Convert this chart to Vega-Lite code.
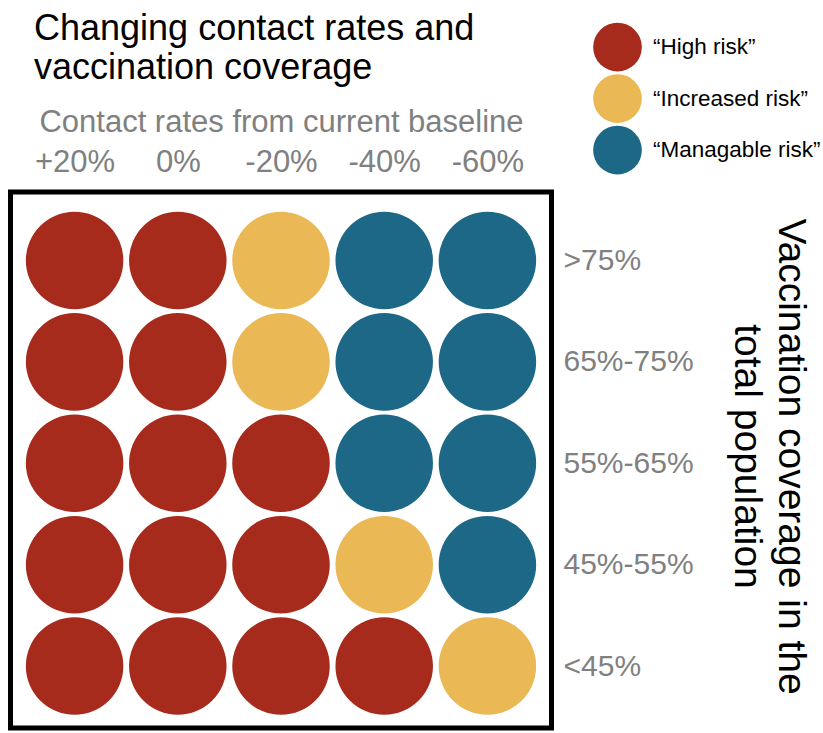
{
  "$schema": "https://vega.github.io/schema/vega-lite/v6.json",
  "autosize": "none",
  "width": 541,
  "height": 536,
  "padding": {"left": 10.5, "top": 192, "right": 271.5, "bottom": 5},
  "background": "white",
  "title": {
    "text": ["Changing contact rates and", "vaccination coverage"],
    "anchor": "start",
    "frame": "group",
    "fontSize": 36,
    "fontWeight": "normal",
    "color": "black",
    "lineHeight": 39,
    "baseline": "top",
    "dx": 23.5,
    "dy": 68
  },
  "data": {
    "values": [
      {"contact": "+20%", "coverage": ">75%", "risk": "“High risk”"},
      {"contact": "0%", "coverage": ">75%", "risk": "“High risk”"},
      {"contact": "-20%", "coverage": ">75%", "risk": "“Increased risk”"},
      {"contact": "-40%", "coverage": ">75%", "risk": "“Managable risk”"},
      {"contact": "-60%", "coverage": ">75%", "risk": "“Managable risk”"},
      {"contact": "+20%", "coverage": "65%-75%", "risk": "“High risk”"},
      {"contact": "0%", "coverage": "65%-75%", "risk": "“High risk”"},
      {"contact": "-20%", "coverage": "65%-75%", "risk": "“Increased risk”"},
      {"contact": "-40%", "coverage": "65%-75%", "risk": "“Managable risk”"},
      {"contact": "-60%", "coverage": "65%-75%", "risk": "“Managable risk”"},
      {"contact": "+20%", "coverage": "55%-65%", "risk": "“High risk”"},
      {"contact": "0%", "coverage": "55%-65%", "risk": "“High risk”"},
      {"contact": "-20%", "coverage": "55%-65%", "risk": "“High risk”"},
      {"contact": "-40%", "coverage": "55%-65%", "risk": "“Managable risk”"},
      {"contact": "-60%", "coverage": "55%-65%", "risk": "“Managable risk”"},
      {"contact": "+20%", "coverage": "45%-55%", "risk": "“High risk”"},
      {"contact": "0%", "coverage": "45%-55%", "risk": "“High risk”"},
      {"contact": "-20%", "coverage": "45%-55%", "risk": "“High risk”"},
      {"contact": "-40%", "coverage": "45%-55%", "risk": "“Increased risk”"},
      {"contact": "-60%", "coverage": "45%-55%", "risk": "“Managable risk”"},
      {"contact": "+20%", "coverage": "<45%", "risk": "“High risk”"},
      {"contact": "0%", "coverage": "<45%", "risk": "“High risk”"},
      {"contact": "-20%", "coverage": "<45%", "risk": "“High risk”"},
      {"contact": "-40%", "coverage": "<45%", "risk": "“High risk”"},
      {"contact": "-60%", "coverage": "<45%", "risk": "“Increased risk”"}
    ]
  },
  "mark": {"type": "point", "filled": true, "opacity": 1, "size": 9506, "shape": "circle", "strokeWidth": 0},
  "encoding": {
    "x": {
      "field": "contact",
      "type": "ordinal",
      "sort": ["+20%", "0%", "-20%", "-40%", "-60%"],
      "scale": {"type": "point", "padding": 0.621},
      "axis": {
        "orient": "top",
        "title": "Contact rates from current baseline",
        "titleFontSize": 31,
        "titleFontWeight": "normal",
        "titleColor": "#808080",
        "titleX": 270.5,
        "titleY": -61,
        "titleAlign": "center",
        "titleAnchor": "middle",
        "titleBaseline": "alphabetic",
        "labelFontSize": 31,
        "labelColor": "#808080",
        "labelBaseline": "alphabetic",
        "labelPadding": 21,
        "labelAngle": 0,
        "ticks": false,
        "tickSize": 0,
        "domain": false,
        "grid": false
      }
    },
    "y": {
      "field": "coverage",
      "type": "ordinal",
      "sort": [">75%", "65%-75%", "55%-65%", "45%-55%", "<45%"],
      "scale": {"type": "point", "padding": 0.643, "align": 0.525},
      "axis": {
        "orient": "right",
        "title": ["Vaccination coverage in the", "total population"],
        "titleFontSize": 39,
        "titleFontWeight": "normal",
        "titleColor": "black",
        "titleAngle": 90,
        "titleX": 226.8,
        "titleY": 264,
        "titleAlign": "center",
        "titleAnchor": "middle",
        "titleBaseline": "alphabetic",
        "titleLineHeight": 44,
        "labelFontSize": 30,
        "labelColor": "#808080",
        "labelBaseline": "middle",
        "labelAlign": "left",
        "labelPadding": 11.5,
        "ticks": false,
        "tickSize": 0,
        "domain": false,
        "grid": false
      }
    },
    "color": {
      "field": "risk",
      "type": "nominal",
      "scale": {
        "domain": ["“High risk”", "“Increased risk”", "“Managable risk”"],
        "range": ["#A62B1C", "#EAB855", "#1D6887"]
      },
      "legend": {
        "orient": "none",
        "legendX": 582.5,
        "legendY": -169.4,
        "title": null,
        "padding": 0,
        "symbolType": "circle",
        "symbolSize": 2372,
        "symbolStrokeWidth": 0,
        "symbolOpacity": 1,
        "labelFontSize": 22.5,
        "labelColor": "black",
        "labelOffset": 11,
        "rowPadding": 2.5,
        "labelLimit": 300
      }
    }
  },
  "config": {
    "font": "Liberation Sans",
    "view": {"stroke": "black", "strokeWidth": 5, "fill": "white"}
  }
}
